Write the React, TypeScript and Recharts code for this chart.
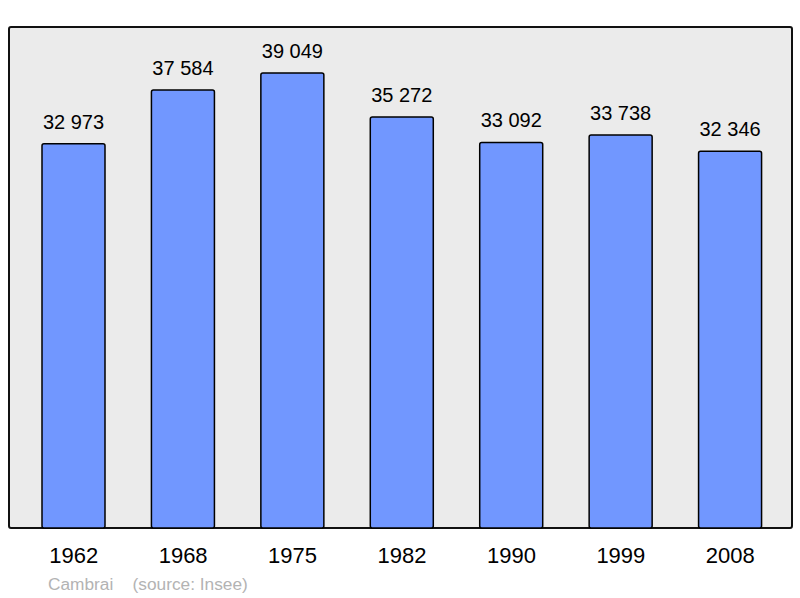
import { BarChart, Bar, XAxis, YAxis, LabelList } from "recharts"

const years = ["1962", "1968", "1975", "1982", "1990", "1999", "2008"]
const population = [32973, 37584, 39049, 35272, 33092, 33738, 32346]

const data = years.map((year, i) => ({ year, value: population[i] }))

const fmt = (v: number) => {
  const rest = String(v % 1000).padStart(3, "0")
  return `${Math.floor(v / 1000)} ${rest}`
}

export default function App() {
  return (
    <div style={{ position: "absolute", left: 0, top: 0, width: 800, height: 598, background: "#fff", fontFamily: "'Liberation Sans', Arial, sans-serif" }}>
      <div
        style={{
          position: "absolute",
          left: 8,
          top: 26,
          width: 781,
          height: 499,
          border: "2px solid #111",
          borderRadius: 3,
          background: "#ebebeb",
        }}
      />
      <div style={{ position: "absolute", left: 0, top: 0 }}>
        <BarChart width={800} height={598} data={data} margin={{ top: 27, right: 8, left: 9, bottom: 40 }}>
          <XAxis
            dataKey="year"
            axisLine={false}
            tickLine={false}
            tickSize={0}
            tickMargin={19}
            padding={{ left: 10, right: 7 }}
            tick={{ fill: "#000", fontSize: 22, fontFamily: "'Liberation Sans', Arial, sans-serif" }}
          />
          <YAxis hide domain={[0, 43000]} />
          <Bar
            dataKey="value"
            fill="#7197ff"
            stroke="#000"
            strokeWidth={1.5}
            barSize={63}
            radius={2}
            isAnimationActive={false}
          >
            <LabelList
              dataKey="value"
              position="top"
              offset={15}
              formatter={(v: any) => fmt(Number(v))}
              style={{ fill: "#000", fontSize: 20, fontFamily: "'Liberation Sans', Arial, sans-serif" }}
            />
          </Bar>
        </BarChart>
      </div>
      <div style={{ position: "absolute", left: 48, top: 574, fontSize: 17.3, color: "#b3b3b3", whiteSpace: "pre" }}>
        {"Cambrai    (source: Insee)"}
      </div>
    </div>
  )
}
